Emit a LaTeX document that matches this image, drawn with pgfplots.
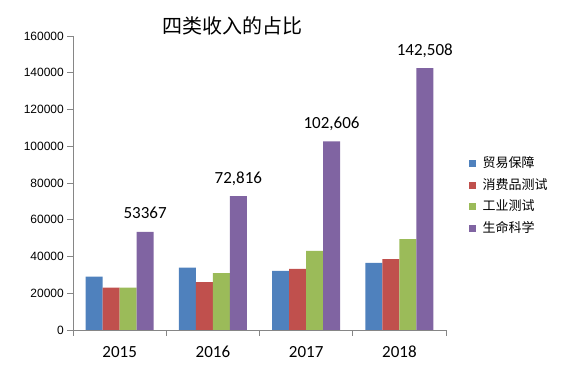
\documentclass[border=0pt]{standalone}
\usepackage{pgfplots}
\pgfplotsset{compat=1.18}
\usepackage{pgfplotstable}
\usepackage{fontspec}
\setmainfont{Carlito}
\newfontfamily\cjk{Noto Sans CJK SC}
\newfontfamily\tickfont{Liberation Sans}
\definecolor{cblue}{HTML}{4F81BD}
\definecolor{cred}{HTML}{C0504D}
\definecolor{cgreen}{HTML}{9BBB59}
\definecolor{cpurple}{HTML}{8064A2}
\definecolor{axgray}{HTML}{868686}

\pgfplotstableread{
x trade consumer industry life label
0 29000 23000 23000 53367 53367
1 34000 26000 31000 72816 72,816
2 32200 33300 43000 102606 102,606
3 36500 38600 49500 142508 142,508
}\datatable

\begin{document}
\begin{tikzpicture}
\useasboundingbox (0,0) rectangle (563bp,372bp);
\node[font=\cjk\fontsize{20bp}{24bp}\selectfont, inner sep=0pt] at (232bp,346bp) {四类收入的占比};
\begin{axis}[
  at={(73bp,42bp)}, anchor=south west,
  width=373bp, height=294bp, scale only axis,
  xmin=-0.5, xmax=3.5, ymin=0, ymax=160000,
  axis x line*=bottom, axis y line*=left,
  axis line style={axgray, -},
  tick align=outside,
  major tick length=6bp,
  tick style={axgray, line width=0.8pt},
  xtick={-0.5,0.5,1.5,2.5,3.5},
  xticklabels={},
  extra x ticks={0,1,2,3},
  extra x tick labels={2015,2016,2017,2018},
  extra x tick style={major tick length=0pt,
    tick label style={anchor=base, inner sep=0pt, yshift=-28bp, font=\fontsize{17bp}{20bp}\selectfont}},
  ytick={0,20000,...,160000},
  scaled y ticks=false,
  /pgf/number format/.cd, fixed, 1000 sep={}, assume math mode=true,
  /pgfplots/.cd,
  yticklabel style={font=\tickfont\fontsize{12bp}{14bp}\selectfont, inner sep=0pt, xshift=-3bp},
  ybar=0pt, bar width=0.182,
  legend cell align=left,
  legend style={at={(1.052,0.456)}, anchor=west, draw=none, fill=none,
    font=\cjk\fontsize{13bp}{15bp}\selectfont,
    nodes={inner sep=0pt, text height=11bp, text depth=3bp},
    row sep=7.7bp, column sep=7bp},
  legend image code/.code={\fill[#1] (0bp,-3.5bp) rectangle (7bp,3.5bp);},
]
\addplot[fill=cblue, draw=none] table[x=x, y=trade] {\datatable};
\addplot[fill=cred, draw=none] table[x=x, y=consumer] {\datatable};
\addplot[fill=cgreen, draw=none] table[x=x, y=industry] {\datatable};
\addplot[fill=cpurple, draw=none,
  nodes near coords, point meta=explicit symbolic,
  every node near coord/.append style={anchor=base, inner sep=0pt, yshift=13bp, black, font=\fontsize{17bp}{20bp}\selectfont}]
  table[x=x, y=life, meta=label] {\datatable};
\legend{贸易保障,消费品测试,工业测试,生命科学}
\end{axis}
\end{tikzpicture}
\end{document}
